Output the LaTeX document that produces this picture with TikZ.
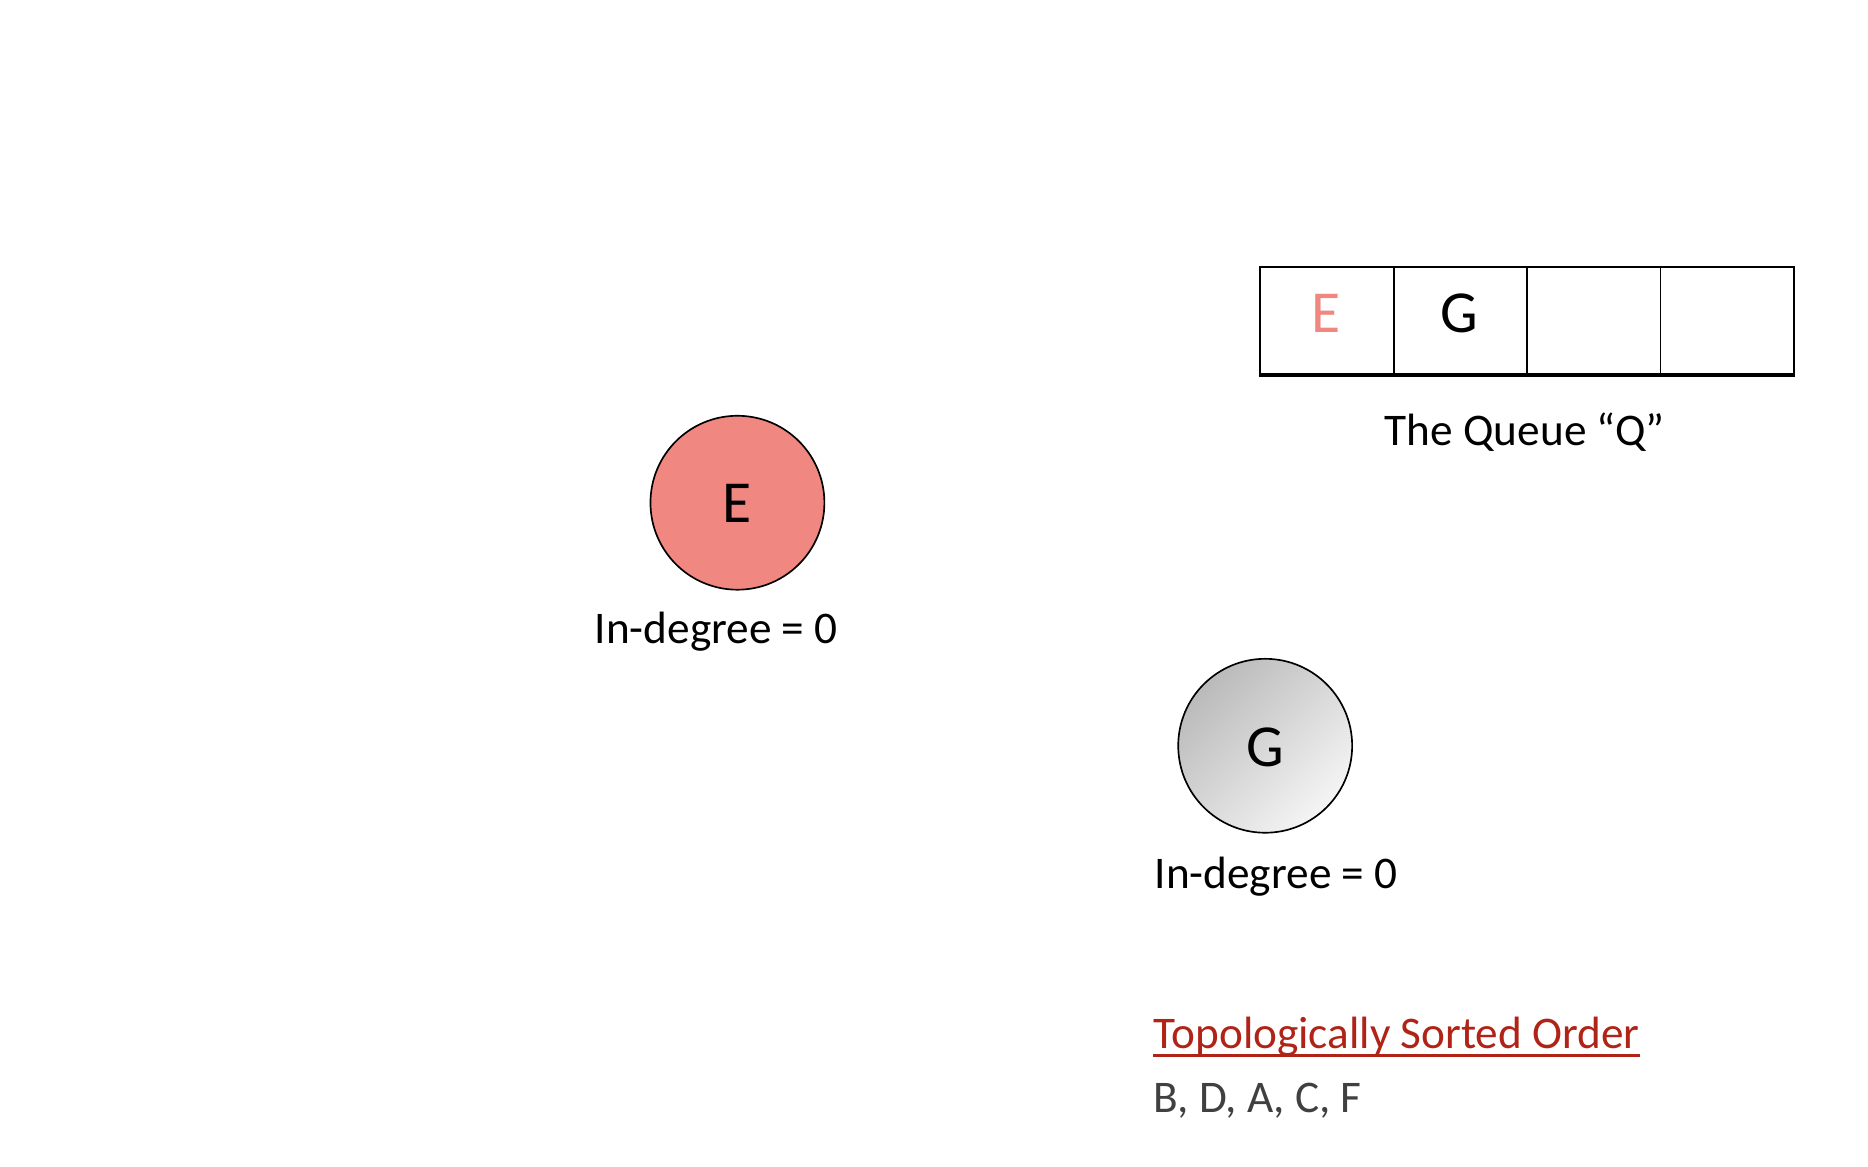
\documentclass[tikz,border=0pt]{standalone}
\usepackage{fontspec}
\usetikzlibrary{calc}
\setmainfont{Carlito}
\definecolor{salmon}{HTML}{F08780}
\definecolor{darkred}{HTML}{B02418}
\definecolor{txtgray}{HTML}{404040}
\begin{document}
\begin{tikzpicture}[x=1pt,y=-1pt,
  vertex/.style={circle,draw=black,line width=1.4pt,minimum size=146pt,inner sep=0pt},
  cell/.style={rectangle,draw=black,line width=1.6pt,minimum width=112pt,minimum height=90pt,inner sep=0pt,anchor=north west},
  big/.style={font=\fontsize{50}{56}\selectfont},
  lbl/.style={font=\fontsize{38}{44}\selectfont,inner sep=0pt}]
\useasboundingbox (0,0) rectangle (1568,979);
% queue
\node[cell] (q1) at (1057,223) {};
\node[cell] (q2) at (1169,223) {};
\node[cell] (q3) at (1281,223) {};
\node[cell] (q4) at (1393,223) {};
\draw[line width=3.4pt] (q1.south west) -- (q4.south east);
\node[big,text=salmon,inner sep=0pt,anchor=base] (qe) at (1113,279) {E};
\node[big,inner sep=0pt,anchor=base] (qg) at (1225,279) {G};
\node[lbl,anchor=base] (qlabel) at (1280,374) {The Queue “Q”};
% vertices
\node[vertex,fill=salmon] (E) at (619,422) {};
\node[big,inner sep=0pt,anchor=base] (Et) at (619,439) {E};
\node[lbl,anchor=base west] (Elab) at (499,540) {In-degree = 0};
\node[vertex,top color=black!27,bottom color=black!4,shading angle=45] (G) at (1062,626) {};
\node[big,inner sep=0pt,anchor=base] (Gt) at (1062,643) {G};
\node[lbl,anchor=base west] (Glab) at (969,746) {In-degree = 0};
% sorted order
\node[lbl,anchor=base west,text=darkred] (tso) at (968,880) {Topologically Sorted Order};
\draw[darkred,line width=3.2pt] ($(tso.base west)+(0,6)$) -- ($(tso.base east)+(0,6)$);
\node[lbl,anchor=base west,text=txtgray] (order) at (968,934) {B, D, A, C, F};
\end{tikzpicture}
\end{document}
